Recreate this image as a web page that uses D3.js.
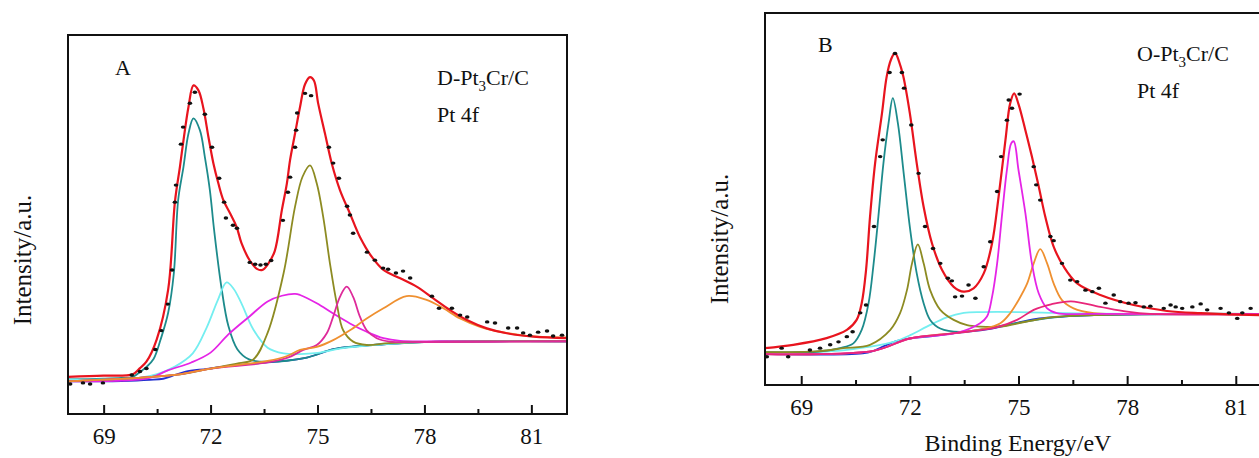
<!DOCTYPE html>
<html>
<head>
<meta charset="utf-8">
<script src="https://cdn.jsdelivr.net/npm/d3@7"></script>
<style>
  body { margin: 0; background: #fff; }
  svg { display: block; }
  text { font-family: "Liberation Serif", "Times New Roman", serif; fill: #111; }
</style>
</head>
<body>
<div id="chart"></div>
<script>
// ---- data: [binding energy eV, intensity a.u.] ----

const xTicks = [69, 72, 75, 78, 81];
const xMinorTicks = [70.5, 73.5, 76.5, 79.5];

// panel A  (D-Pt3Cr/C)
const aBackground = [[68,8.6],[69.5,8.7],[70.3,9.0],[70.67,9.3],[71.0,10.3],[71.3,11.2],[71.9,11.9],[72.54,12.7],[73.6,13.6],[74.7,14.9],[75.45,17.1],[76.0,17.8],[76.85,18.4],[77.93,19.0],[80,19.2],[82,19.2]];
const aTeal = [[68,9.1],[69,9.3],[69.5,9.5],[69.82,9.8],[70.02,11.1],[70.2,12.4],[70.4,14.5],[70.6,19.7],[70.81,26.7],[70.97,37.2],[71.09,56.4],[71.24,65.2],[71.38,74.0],[71.52,78.0],[71.7,74.9],[71.84,67.8],[71.98,59.1],[72.1,48.5],[72.3,33.7],[72.5,23.2],[72.75,17.1],[73.08,14.4],[73.6,13.8],[74.7,14.9],[75.45,17.1],[76.85,18.4],[78,19.0],[82,19.2]];
const aCyan = [[68,9.0],[69,9.1],[70,9.5],[70.5,10.5],[71.0,12.5],[71.5,16.0],[71.9,23.0],[72.2,30.0],[72.45,34.7],[72.65,33.0],[72.86,29.3],[73.2,22.3],[73.6,17.5],[74.05,16.0],[74.5,15.8],[75.0,16.1],[75.8,17.5],[76.85,18.4],[78,19.0],[82,19.2]];
const aMagenta = [[68,8.6],[69.5,8.8],[70.3,9.5],[70.8,11.5],[71.46,13.6],[72.0,16.2],[72.5,21.0],[73.1,25.8],[73.6,29.7],[74.0,31.2],[74.37,31.7],[74.51,31.4],[74.98,29.2],[75.44,26.5],[75.91,23.9],[76.38,21.7],[76.85,20.0],[77.32,19.3],[78.5,19.2],[82,19.2]];
const aOlive = [[68,8.6],[71,10.3],[72,12.0],[72.8,13.4],[73.2,14.4],[73.6,21.4],[74.05,37.2],[74.37,54.7],[74.58,62.6],[74.79,65.6],[74.98,60.8],[75.16,52.0],[75.35,39.7],[75.54,29.2],[75.72,22.1],[76.0,19.1],[76.38,18.2],[77,18.7],[78,19.0],[82,19.2]];
const aPink = [[68,8.6],[71,10.3],[72,12.0],[73.6,13.6],[74.2,15.0],[74.6,16.9],[74.98,18.2],[75.26,21.3],[75.44,25.7],[75.63,30.9],[75.82,33.6],[76.0,30.9],[76.19,25.7],[76.38,22.1],[76.66,20.0],[77.04,19.1],[78,19.0],[82,19.2]];
const aOrange = [[68,8.6],[71,10.3],[72,12.0],[73.0,13.2],[73.6,14.0],[74.15,15.3],[74.51,16.9],[74.98,17.7],[75.44,19.5],[75.91,22.1],[76.38,25.2],[76.85,27.9],[77.5,31.1],[78.06,30.1],[78.53,27.9],[79.0,25.2],[79.56,23.0],[80.12,21.7],[80.87,20.6],[82,20.2]];
const aEnvelope = [[68,9.8],[69.0,10.1],[69.82,10.5],[70.02,12.1],[70.2,13.8],[70.49,19.7],[70.81,32.8],[71.0,56.0],[71.14,65.2],[71.24,72.2],[71.38,81.0],[71.52,86.7],[71.66,85.4],[71.8,80.6],[71.94,73.1],[72.08,66.1],[72.22,60.8],[72.36,56.4],[72.55,52.9],[72.73,49.4],[72.87,45.0],[73.1,40.5],[73.3,38.3],[73.45,38.0],[73.6,39.4],[73.8,43.0],[74.0,53.8],[74.14,60.8],[74.23,67.0],[74.37,74.0],[74.51,81.0],[74.65,87.0],[74.79,88.9],[74.9,88.0],[75.02,81.9],[75.21,74.0],[75.4,66.1],[75.63,59.1],[75.91,52.9],[76.19,46.7],[76.52,41.5],[76.85,38.0],[77.32,35.8],[77.78,33.6],[78.25,30.5],[78.72,27.4],[79.19,24.8],[79.75,22.6],[80.31,21.3],[81.06,20.4],[82,20.0]];
const aPoints = [[68.06,7.9],[68.42,8.2],[68.62,7.9],[68.98,8.2],[69.79,10.3],[70.02,11.2],[70.2,12.0],[70.45,17.0],[70.62,22.0],[70.8,29.0],[70.92,38.0],[71.0,55.9],[71.03,60.4],[71.17,71.2],[71.23,75.7],[71.42,82.0],[71.56,84.9],[71.84,79.1],[72.04,70.4],[72.24,62.2],[72.38,55.9],[72.43,51.7],[72.63,49.8],[72.74,49.0],[73.1,40.0],[73.25,39.5],[73.4,39.3],[73.55,39.5],[73.7,40.5],[74.03,51.1],[74.17,58.5],[74.23,62.5],[74.37,70.4],[74.4,74.9],[74.43,79.4],[74.65,84.6],[74.82,84.0],[75.32,70.4],[75.44,66.2],[75.6,62.2],[75.83,54.8],[75.91,52.5],[76.0,47.7],[76.39,42.7],[76.61,40.6],[76.84,38.5],[76.98,38.2],[77.2,37.2],[77.4,37.7],[77.6,35.9],[78.21,31.1],[78.41,27.9],[78.77,27.9],[79.0,26.1],[79.2,25.6],[79.76,24.3],[79.98,24.0],[80.35,22.7],[80.6,22.7],[80.77,21.4],[80.96,20.8],[81.19,21.6],[81.44,21.9],[81.61,20.6],[81.86,20.8]];

// panel B  (O-Pt3Cr/C)
const bBackground = [[68,8.3],[70.7,8.5],[71.0,9.2],[71.3,10.5],[71.6,11.7],[72.0,12.5],[72.5,13.0],[73.3,14.0],[74.18,15.0],[74.83,16.4],[75.49,17.8],[76.58,18.6],[78.77,19.0],[82,19.1]];
const bTeal = [[68,8.8],[69.5,9.0],[70.07,9.9],[70.44,11.2],[70.67,14.8],[70.86,22.0],[71.0,32.7],[71.13,45.2],[71.27,59.6],[71.41,70.3],[71.53,77.1],[71.67,70.3],[71.83,56.9],[72.01,41.7],[72.19,30.0],[72.38,22.0],[72.56,17.5],[72.84,15.2],[73.39,14.3],[74.0,15.0],[75.0,16.7],[76.0,18.2],[78.0,19.0],[82,19.1]];
const bOlive = [[68,8.8],[69.5,9.1],[70.16,9.9],[70.9,10.8],[71.46,14.8],[71.73,19.3],[71.92,25.5],[72.06,32.7],[72.22,37.8],[72.38,32.7],[72.56,25.5],[72.84,20.2],[73.21,17.5],[73.58,16.1],[73.94,15.7],[74.5,15.7],[75.2,17.0],[76.0,18.3],[78.0,19.0],[82,19.1]];
const bCyan = [[68,8.6],[70.0,9.2],[70.9,10.3],[71.55,11.6],[72.01,13.4],[72.47,15.7],[73.02,18.2],[73.49,19.4],[74.0,19.6],[75.0,19.6],[76.0,19.4],[77.0,19.2],[82,19.0]];
const bMagenta = [[68,8.3],[71.0,9.2],[72.0,12.5],[73.3,14.0],[73.94,16.6],[74.13,18.4],[74.27,23.7],[74.41,32.7],[74.54,45.2],[74.68,57.8],[74.8,65.0],[74.87,65.5],[75.0,57.8],[75.19,46.2],[75.37,32.7],[75.56,24.6],[75.79,20.6],[76.06,19.3],[77.0,19.1],[82,19.1]];
const bOrange = [[68,8.3],[71.0,9.2],[72.0,12.5],[73.3,14.0],[74.0,15.0],[74.5,16.6],[74.77,19.3],[75.0,22.8],[75.24,27.3],[75.42,32.7],[75.6,36.5],[75.79,32.7],[75.97,27.3],[76.2,22.8],[76.52,20.6],[77.08,19.3],[78.0,19.1],[82,19.1]];
const bCrimson = [[68,8.3],[71.0,9.2],[72.0,12.5],[73.3,14.0],[74.39,15.5],[74.96,17.5],[75.42,20.2],[75.9,21.7],[76.45,22.5],[77.26,21.0],[78.0,19.7],[78.64,19.1],[82,19.0]];
const bEnvelope = [[68,9.9],[68.78,10.8],[69.7,12.6],[70.26,14.8],[70.53,17.5],[70.67,22.0],[70.79,30.9],[70.9,45.2],[71.04,59.6],[71.23,73.0],[71.36,82.9],[71.48,87.5],[71.59,89.3],[71.7,87.0],[71.82,82.9],[72.0,73.0],[72.19,59.6],[72.38,47.9],[72.61,38.1],[72.89,30.9],[73.21,26.4],[73.49,25.1],[73.76,26.0],[74.04,30.0],[74.27,38.1],[74.45,50.6],[74.64,65.9],[74.77,75.7],[74.88,78.4],[75.0,75.5],[75.19,68.5],[75.37,61.4],[75.56,53.3],[75.74,45.2],[75.97,37.2],[76.25,31.8],[76.62,27.3],[77.26,24.2],[78.18,21.5],[79.1,19.9],[80.03,19.3],[81.66,18.8],[82,18.8]];
const bPoints = [[68.05,7.6],[68.46,9.9],[68.64,7.6],[69.24,9.4],[69.52,9.9],[69.8,10.8],[70.03,11.6],[70.26,13.0],[70.42,14.3],[70.63,19.4],[70.79,21.5],[71.01,42.6],[71.18,61.4],[71.25,65.9],[71.44,84.0],[71.59,89.1],[71.78,84.0],[71.84,79.8],[72.04,69.9],[72.24,56.9],[72.42,42.6],[72.64,36.7],[72.84,32.7],[73.05,28.7],[73.16,28.0],[73.25,23.7],[73.44,23.9],[73.62,26.9],[73.81,23.3],[74.04,31.8],[74.22,38.5],[74.41,52.0],[74.52,61.4],[74.68,71.2],[74.73,76.6],[74.82,74.4],[75.03,78.2],[75.42,58.7],[75.49,53.8],[75.6,49.7],[75.88,39.9],[75.97,38.8],[76.2,32.7],[76.43,28.2],[76.62,27.8],[76.85,25.5],[77.04,25.1],[77.22,26.0],[77.4,22.0],[77.63,24.2],[77.81,22.4],[78.04,22.0],[78.23,22.1],[78.46,21.0],[78.64,21.2],[79.01,20.6],[79.2,21.5],[79.34,21.0],[79.52,20.6],[79.8,21.0],[80.03,21.8],[80.21,20.2],[80.58,20.6],[80.81,19.4],[81.04,17.9],[81.18,19.4],[81.41,20.6]];

// ---- drawing ----
const W = 1259, H = 458;
const svg = d3.select("#chart").append("svg")
    .attr("width", W)
    .attr("height", H);

const colors = {
    bg: "#2532cf", teal: "#1d8b8c", cyan: "#74eef0", magenta: "#e524e6",
    olive: "#8d8b22", pink: "#de2a9a", orange: "#ef9030", crimson: "#e8267a",
    red: "#e8141e"
};

function drawPanel(cfg) {
    const x = d3.scaleLinear().domain([68, 82]).range([cfg.left, cfg.right]);
    const y = d3.scaleLinear().domain([0, 100]).range([cfg.bottom, cfg.top]);
    const g = svg.append("g");

    const line = d3.line()
        .x(d => x(d[0]))
        .y(d => y(d[1]))
        .curve(d3.curveCatmullRom.alpha(0.5));

    cfg.curves.forEach(c => {
        g.append("path")
            .datum(c.data)
            .attr("fill", "none")
            .attr("stroke", c.color)
            .attr("stroke-width", c.width || 1.8)
            .attr("d", line);
    });

    // measured points: short black dashes
    g.selectAll(".pt")
        .data(cfg.points)
        .enter().append("ellipse")
        .attr("class", "pt")
        .attr("cx", d => x(d[0]))
        .attr("cy", d => y(d[1]))
        .attr("rx", 2.3)
        .attr("ry", 1.7)
        .attr("fill", "#111");

    // frame
    g.append("rect")
        .attr("x", cfg.left)
        .attr("y", cfg.top)
        .attr("width", cfg.right - cfg.left)
        .attr("height", cfg.bottom - cfg.top)
        .attr("fill", "none")
        .attr("stroke", "#111")
        .attr("stroke-width", 2);

    // x axis, ticks pointing inwards
    const xAxis = d3.axisBottom(x)
        .tickValues(xTicks)
        .tickFormat(d3.format("d"))
        .tickSizeInner(-9)
        .tickSizeOuter(0)
        .tickPadding(14);
    const ax = g.append("g")
        .attr("transform", `translate(0,${cfg.bottom})`)
        .call(xAxis);
    ax.select(".domain").remove();
    ax.selectAll("line").attr("stroke", "#111").attr("stroke-width", 2);
    ax.selectAll("text")
        .attr("font-size", 23)
        .attr("font-family", "Liberation Serif")
        .attr("fill", "#111");

    const minor = g.append("g")
        .attr("transform", `translate(0,${cfg.bottom})`)
        .call(d3.axisBottom(x).tickValues(xMinorTicks).tickFormat("").tickSizeInner(-5).tickSizeOuter(0));
    minor.select(".domain").remove();
    minor.selectAll("line").attr("stroke", "#111").attr("stroke-width", 2);

    // y label
    g.append("text")
        .attr("transform", `translate(${cfg.yLabelX},${cfg.yLabelY}) rotate(-90)`)
        .attr("text-anchor", "middle")
        .attr("font-size", 25)
        .text("Intensity/a.u.");

    // panel letter
    g.append("text")
        .attr("x", cfg.letterX)
        .attr("y", cfg.letterY)
        .attr("font-size", 22)
        .text(cfg.letter);

    // sample name with subscript
    const name = g.append("text")
        .attr("x", cfg.nameX)
        .attr("y", cfg.nameY)
        .attr("font-size", 22);
    name.append("tspan").text(cfg.prefix + "-Pt");
    name.append("tspan").attr("dy", 6).attr("font-size", 15).text("3");
    name.append("tspan").attr("dy", -6).text("Cr/C");

    g.append("text")
        .attr("x", cfg.nameX)
        .attr("y", cfg.nameY + 37)
        .attr("font-size", 22)
        .text("Pt 4f");

    if (cfg.xLabel) {
        g.append("text")
            .attr("x", cfg.xLabelX)
            .attr("y", cfg.xLabelY)
            .attr("text-anchor", "middle")
            .attr("font-size", 24)
            .text("Binding Energy/eV");
    }
}

drawPanel({
    left: 68, right: 567, top: 35, bottom: 414,
    letter: "A", letterX: 115, letterY: 75,
    prefix: "D", nameX: 437, nameY: 85,
    yLabelX: 31, yLabelY: 260,
    curves: [
        {data: aBackground, color: colors.bg},
        {data: aTeal, color: colors.teal},
        {data: aCyan, color: colors.cyan},
        {data: aMagenta, color: colors.magenta},
        {data: aOlive, color: colors.olive},
        {data: aPink, color: colors.pink},
        {data: aOrange, color: colors.orange},
        {data: aEnvelope, color: colors.red, width: 2.2}
    ],
    points: aPoints
});

drawPanel({
    left: 765, right: 1272, top: 13, bottom: 385,
    letter: "B", letterX: 818, letterY: 52,
    prefix: "O", nameX: 1137, nameY: 61,
    yLabelX: 728, yLabelY: 239,
    xLabel: true, xLabelX: 1018, xLabelY: 451,
    curves: [
        {data: bBackground, color: colors.bg},
        {data: bCyan, color: colors.cyan},
        {data: bTeal, color: colors.teal},
        {data: bOlive, color: colors.olive},
        {data: bOrange, color: colors.orange},
        {data: bMagenta, color: colors.magenta},
        {data: bCrimson, color: colors.crimson},
        {data: bEnvelope, color: colors.red, width: 2.2}
    ],
    points: bPoints
});
</script>
</body>
</html>
